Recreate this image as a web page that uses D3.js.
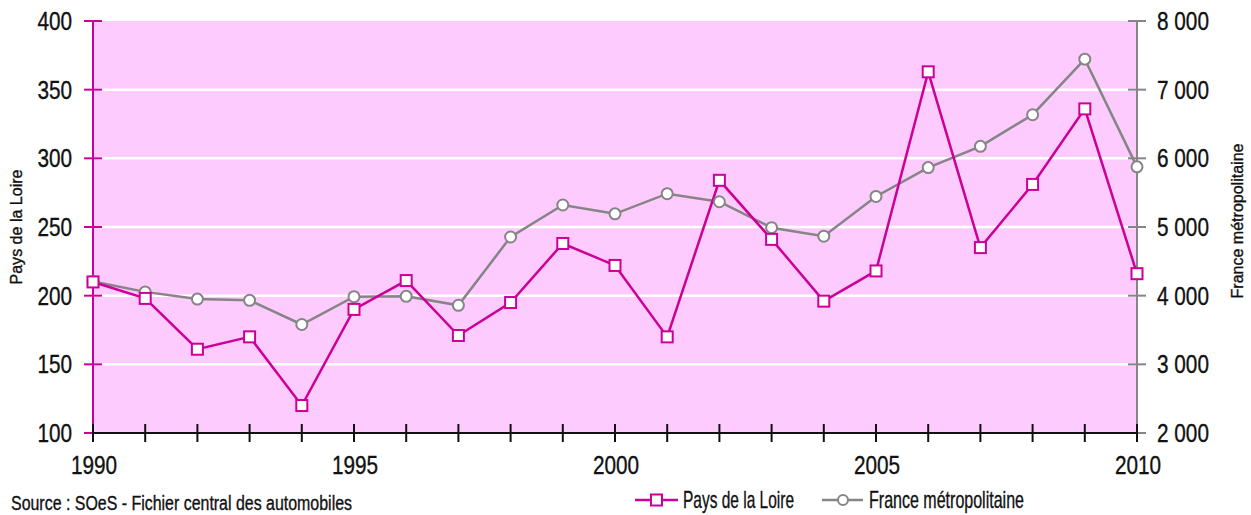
<!DOCTYPE html>
<html>
<head>
<meta charset="utf-8">
<style>
body { margin: 0; background: #fff; }
text { font-family: "Liberation Sans", Arial, sans-serif; fill: #111; stroke: #111; stroke-width: 0.35px; }
</style>
</head>
<body>
<script src="https://cdn.jsdelivr.net/npm/d3@7"></script>
<script>
var years = d3.range(1990, 2011);
var paysDeLaLoire = [210, 198, 161, 170, 120, 190, 211, 171, 195, 238, 222, 170, 284, 241, 196, 218, 363, 235, 281, 336, 216];
var franceMetro = [4205, 4055, 3950, 3932, 3580, 3985, 3990, 3860, 4854, 5320, 5192, 5485, 5368, 4990, 4866, 5445, 5865, 6175, 6635, 7444, 5876];
var leftTicks = [100, 150, 200, 250, 300, 350, 400];
var rightTicks = [2000, 3000, 4000, 5000, 6000, 7000, 8000];
var yearLabels = [1990, 1995, 2000, 2005, 2010];

var width = 1251, height = 515;
var m = {left: 93, right: 1137, top: 21, bottom: 433};
var magenta = "#cc0099", grey = "#858585";
var sx = 0.83; // squeeze to mimic the condensed face

var svg = d3.select("body").append("svg")
    .attr("width", width)
    .attr("height", height);

var x = d3.scaleLinear().domain([1990, 2010]).range([m.left, m.right]);
var yL = d3.scaleLinear().domain([100, 400]).range([m.bottom, m.top]);
var yR = d3.scaleLinear().domain([2000, 8000]).range([m.bottom, m.top]);

// plot background
svg.append("rect")
    .attr("x", m.left).attr("y", m.top)
    .attr("width", m.right - m.left).attr("height", m.bottom - m.top)
    .attr("fill", "#fdcbfd");

// white gridlines
svg.append("g").selectAll("line")
    .data(leftTicks.slice(1, -1))
    .enter().append("line")
    .attr("x1", m.left).attr("x2", m.right)
    .attr("y1", function(d) { return yL(d); })
    .attr("y2", function(d) { return yL(d); })
    .attr("stroke", "#fff")
    .attr("stroke-width", 2.5);

// left axis
var gL = svg.append("g").attr("transform", "translate(" + m.left + ",0)");
gL.append("line").attr("y1", m.top).attr("y2", m.bottom)
    .attr("stroke", magenta).attr("stroke-width", 2);
gL.selectAll(".tk").data(leftTicks).enter().append("line")
    .attr("x1", -9).attr("x2", 9)
    .attr("y1", function(d) { return yL(d); })
    .attr("y2", function(d) { return yL(d); })
    .attr("stroke", magenta).attr("stroke-width", 2);
gL.selectAll(".lb").data(leftTicks).enter().append("text")
    .attr("transform", function(d) { return "translate(-21," + yL(d) + ") scale(" + sx + ",1)"; })
    .attr("dy", "0.36em")
    .attr("text-anchor", "end")
    .style("font-size", "25px")
    .text(function(d) { return d; });

// right axis
var gR = svg.append("g").attr("transform", "translate(" + m.right + ",0)");
gR.append("line").attr("y1", m.top).attr("y2", m.bottom)
    .attr("stroke", grey).attr("stroke-width", 2);
gR.selectAll(".tk").data(rightTicks).enter().append("line")
    .attr("x1", -9).attr("x2", 9)
    .attr("y1", function(d) { return yR(d); })
    .attr("y2", function(d) { return yR(d); })
    .attr("stroke", grey).attr("stroke-width", 2);
gR.selectAll(".lb").data(rightTicks).enter().append("text")
    .attr("transform", function(d) { return "translate(20," + yR(d) + ") scale(" + sx + ",1)"; })
    .attr("dy", "0.36em")
    .style("font-size", "25px")
    .text(function(d) { return d3.format(",")(d).replace(",", " "); });

// bottom axis
var gB = svg.append("g").attr("transform", "translate(0," + m.bottom + ")");
gB.append("line").attr("x1", m.left).attr("x2", m.right)
    .attr("stroke", "#111").attr("stroke-width", 2);
gB.selectAll(".tk").data(years).enter().append("line")
    .attr("x1", function(d) { return x(d); })
    .attr("x2", function(d) { return x(d); })
    .attr("y1", -9).attr("y2", 9)
    .attr("stroke", "#111").attr("stroke-width", 2);
gB.selectAll(".lb").data(yearLabels).enter().append("text")
    .attr("transform", function(d) { return "translate(" + (x(d) + 1) + ",41) scale(" + sx + ",1)"; })
    .attr("text-anchor", "middle")
    .style("font-size", "25px")
    .text(function(d) { return d; });

// axis titles
svg.append("text")
    .attr("transform", "translate(22,227) rotate(-90)")
    .attr("text-anchor", "middle")
    .attr("textLength", 115).attr("lengthAdjust", "spacingAndGlyphs")
    .style("font-size", "16px")
    .text("Pays de la Loire");
svg.append("text")
    .attr("transform", "translate(1243,221) rotate(-90)")
    .attr("text-anchor", "middle")
    .attr("textLength", 155).attr("lengthAdjust", "spacingAndGlyphs")
    .style("font-size", "16px")
    .text("France métropolitaine");

// lines
var lineL = d3.line().x(function(d, i) { return x(years[i]); }).y(function(d) { return yL(d); });
var lineR = d3.line().x(function(d, i) { return x(years[i]); }).y(function(d) { return yR(d); });

svg.append("path").datum(franceMetro)
    .attr("d", lineR).attr("fill", "none")
    .attr("stroke", grey).attr("stroke-width", 2.5);
svg.append("path").datum(paysDeLaLoire)
    .attr("d", lineL).attr("fill", "none")
    .attr("stroke", magenta).attr("stroke-width", 2.5);

svg.append("g").selectAll("circle").data(franceMetro).enter().append("circle")
    .attr("cx", function(d, i) { return x(years[i]); })
    .attr("cy", function(d) { return yR(d); })
    .attr("r", 5.5)
    .attr("fill", "#fff").attr("stroke", grey).attr("stroke-width", 2);

svg.append("g").selectAll("rect").data(paysDeLaLoire).enter().append("rect")
    .attr("x", function(d, i) { return x(years[i]) - 5.5; })
    .attr("y", function(d) { return yL(d) - 5.5; })
    .attr("width", 11).attr("height", 11)
    .attr("fill", "#fff").attr("stroke", magenta).attr("stroke-width", 2);

// source
svg.append("text")
    .attr("x", 11).attr("y", 510)
    .attr("textLength", 341).attr("lengthAdjust", "spacingAndGlyphs")
    .style("font-size", "20px")
    .text("Source : SOeS - Fichier central des automobiles");

// legend
var lg = svg.append("g").attr("transform", "translate(0,500)");
lg.append("line").attr("x1", 635).attr("x2", 678)
    .attr("stroke", magenta).attr("stroke-width", 2.5);
lg.append("rect").attr("x", 651).attr("y", -5.5).attr("width", 11).attr("height", 11)
    .attr("fill", "#fff").attr("stroke", magenta).attr("stroke-width", 2);
lg.append("text").attr("x", 683).attr("y", 8)
    .attr("textLength", 111).attr("lengthAdjust", "spacingAndGlyphs")
    .style("font-size", "24px").text("Pays de la Loire");
lg.append("line").attr("x1", 822).attr("x2", 863)
    .attr("stroke", grey).attr("stroke-width", 2.5);
lg.append("circle").attr("cx", 843).attr("r", 5)
    .attr("fill", "#fff").attr("stroke", grey).attr("stroke-width", 2);
lg.append("text").attr("x", 869).attr("y", 8)
    .attr("textLength", 155).attr("lengthAdjust", "spacingAndGlyphs")
    .style("font-size", "24px").text("France métropolitaine");
</script>
</body>
</html>
